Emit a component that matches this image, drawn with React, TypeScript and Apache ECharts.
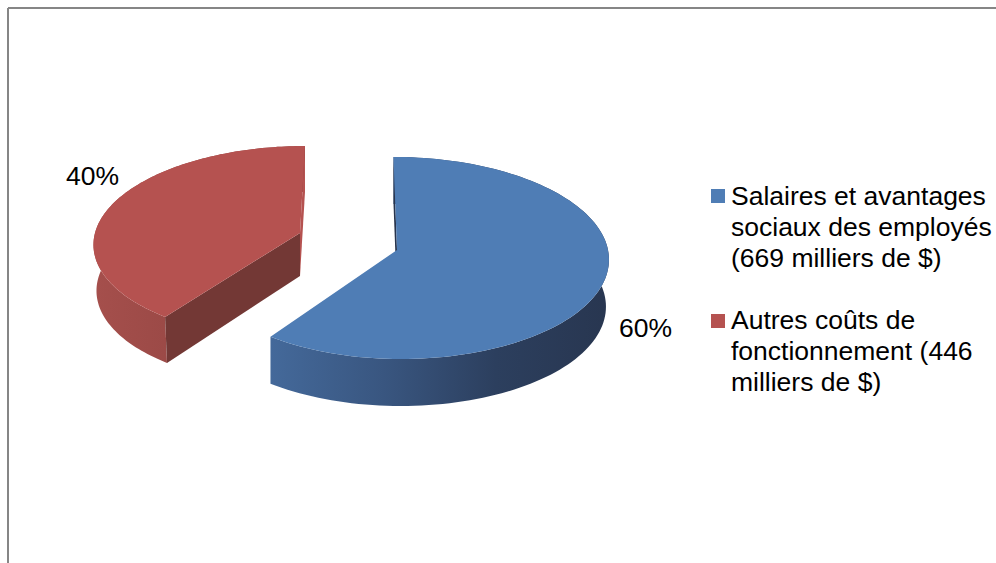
import React, { useEffect, useRef } from "react";
import * as echarts from "echarts";

const categories = ["Salaires et avantages sociaux des employés", "Autres coûts de fonctionnement"];
const values = [669, 446];
const legendLines = [
  ["Salaires et avantages", "sociaux des employés", "(669 milliers de $)"],
  ["Autres coûts de", "fonctionnement (446", "milliers de $)"],
];

const FONT = '26.5px "Liberation Sans", Arial, sans-serif';
const slices = [
  {
    cx: 397, cy: 250, rxR: 211, rxL: 206, rxLowR: 208, rxLowL: 206, skew: 3.5, depth: 47, apexDepth: 46,
    persp: 0.079, tilt: 100.4,
    top: "#4f7db5",
    cut: "#27344d",
    wall: ["#44699a", "#395680", "#2c3f5e", "#283650"],
    label: { x: 619, y: 328 },
  },
  {
    cx: 300, cy: 233, rxR: 205, rxL: 205, rxLowR: 202, rxLowL: 202, skew: -5, depth: 46, apexDepth: 43,
    persp: 0.098, tilt: 95.5,
    top: "#b55250",
    cut: "#733835",
    wall: ["#a54f4c", "#9c4a47", "#934542", "#8f4341"],
    label: { x: 66, y: 176 },
  },
];

const total = values.reduce((a, b) => a + b, 0);

function project(s: any, angle: number, low: boolean): number[] {
  const u = Math.sin(angle);
  const v = -Math.cos(angle);
  const d = 1 - s.persp * v;
  const rx = u >= 0 ? (low ? s.rxLowR : s.rxR) : low ? s.rxLowL : s.rxL;
  return [s.cx + (rx * u) / d + s.skew * v, s.cy + (s.tilt * v) / d + (low ? s.depth : 0)];
}

function arc(s: any, a0: number, a1: number, low: boolean): number[][] {
  const steps = 120;
  const pts: number[][] = [];
  for (let i = 0; i <= steps; i++) pts.push(project(s, a0 + ((a1 - a0) * i) / steps, low));
  return pts;
}

function renderSlice(params: any, api: any) {
  const i = params.dataIndex;
  const val = api.value(0);
  let before = 0;
  for (let k = 0; k < i; k++) before += values[k];
  const a0 = (before / total) * Math.PI * 2;
  const a1 = ((before + val) / total) * Math.PI * 2;
  const s = slices[i];
  const apex = [s.cx, s.cy];
  const apexLow = [s.cx, s.cy + s.apexDepth];
  const first = project(s, a0, false);
  const firstLow = project(s, a0, true);
  const last = project(s, a1, false);
  const lastLow = project(s, a1, true);
  const children: any[] = [];
  const wallStops = s.wall.map((color: string, n: number) => ({ offset: n / (s.wall.length - 1), color }));
  children.push({
    type: "polygon",
    shape: { points: [...arc(s, a0, a1, false), ...arc(s, a0, a1, true).reverse()] },
    style: { fill: { type: "linear", x: 0, y: 0, x2: 1, y2: 0, colorStops: wallStops } },
  });
  if (i === 0) {
    children.push({
      type: "polygon",
      shape: { points: [first, apex, apexLow, firstLow] },
      style: { fill: s.cut },
    });
  } else {
    children.push({
      type: "polygon",
      shape: { points: [apex, last, lastLow, apexLow] },
      style: { fill: s.top },
    });
    children.push({
      type: "polygon",
      shape: { points: [first, apex, apexLow, firstLow] },
      style: { fill: s.cut },
    });
  }
  children.push({
    type: "polygon",
    shape: { points: [apex, ...arc(s, a0, a1, false)] },
    style: { fill: s.top },
  });
  children.push({
    type: "text",
    style: {
      text: Math.round((val / total) * 100) + "%",
      x: s.label.x,
      y: s.label.y,
      font: FONT,
      fill: "#000",
      verticalAlign: "middle",
      align: "left",
    },
  });
  return { type: "group", children };
}

function buildGraphic() {
  const elements: any[] = [
    { type: "line", shape: { x1: 8, y1: 8, x2: 996, y2: 8 }, style: { stroke: "#868686", lineWidth: 2 } },
    { type: "line", shape: { x1: 8, y1: 8, x2: 8, y2: 563 }, style: { stroke: "#868686", lineWidth: 2 } },
  ];
  const tops = [196, 320];
  const swatchY = [189, 314];
  legendLines.forEach((lines, i) => {
    elements.push({
      type: "rect",
      shape: { x: 711, y: swatchY[i], width: 14, height: 14 },
      style: { fill: slices[i].top },
    });
    lines.forEach((line, n) => {
      elements.push({
        type: "text",
        style: {
          text: line,
          x: 731,
          y: tops[i] + n * 31,
          font: FONT,
          fill: "#000",
          verticalAlign: "middle",
          align: "left",
        },
      });
    });
  });
  return elements;
}

export default function App() {
  const ref = useRef<HTMLDivElement>(null);
  useEffect(() => {
    const chart = echarts.init(ref.current!, undefined, { renderer: "svg" });
    chart.setOption({
      animation: false,
      backgroundColor: "#fff",
      graphic: { elements: buildGraphic() },
      series: [
        {
          type: "custom",
          coordinateSystem: "none",
          clip: false,
          renderItem: renderSlice,
          data: categories.map((name, i) => ({ name, value: values[i] })),
        },
      ],
    });
    return () => chart.dispose();
  }, []);
  return <div ref={ref} style={{ position: "fixed", left: 0, top: 0, width: 996, height: 563 }} />;
}
